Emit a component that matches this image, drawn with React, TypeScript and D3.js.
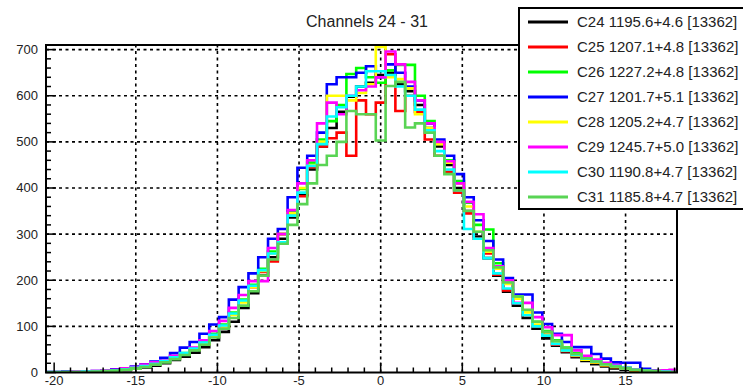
import React from "react";
import * as d3 from "d3";

// ---- data ----
const channels = ["C24", "C25", "C26", "C27", "C28", "C29", "C30", "C31"];
const legendLabels = [
  "C24 1195.6+4.6 [13362]",
  "C25 1207.1+4.8 [13362]",
  "C26 1227.2+4.8 [13362]",
  "C27 1201.7+5.1 [13362]",
  "C28 1205.2+4.7 [13362]",
  "C29 1245.7+5.0 [13362]",
  "C30 1190.8+4.7 [13362]",
  "C31 1185.8+4.7 [13362]",
];
const colors = ["#000000", "#ff0000", "#00ff00", "#0000ff", "#ffff00", "#ff00ff", "#00ffff", "#59d454"];

// bin contents, first bin starts at -20.1, width 0.6
const c24 = [0,1,0,1,2,2,4,5,8,11,15,20,27,34,43,55,70,88,110,140,172,210,250,290,336,385,440,490,530,565,598,620,628,645,650,625,610,580,530,490,450,400,350,295,248,210,175,145,118,95,74,58,44,33,25,18,13,9,6,4,2,2,1,0];
const c25 = [1,0,1,1,2,4,5,7,10,14,19,24,30,40,50,64,82,100,128,155,185,218,241,300,340,382,445,490,508,520,470,590,560,585,690,567,600,565,505,470,435,390,345,290,258,212,178,150,124,100,82,60,46,36,28,22,16,12,8,5,3,3,1,1];
const c26 = [0,1,1,2,2,3,5,7,10,13,18,25,32,42,52,66,84,104,130,158,190,225,262,300,350,398,455,505,545,580,647,660,640,628,655,667,667,600,545,500,460,415,368,320,310,237,200,165,135,110,90,70,54,42,32,25,19,14,10,6,4,3,2,1];
const c27 = [1,2,1,2,3,5,7,9,13,18,24,32,42,54,66,84,104,120,158,185,215,250,290,311,380,444,470,520,625,640,640,650,664,640,668,650,620,590,540,505,470,430,380,330,285,245,205,169,169,130,105,84,66,55,55,40,30,22,21,21,8,5,3,1];
const c28 = [0,0,1,1,2,3,4,6,9,13,18,24,32,40,50,62,80,100,125,152,185,220,258,300,345,400,450,500,600,600,590,606,625,706,640,636,616,560,530,495,455,410,360,305,262,225,192,160,130,104,82,63,48,37,28,22,16,12,8,5,3,2,1,0];
const c29 = [0,1,2,2,3,5,6,9,12,17,22,26,36,41,54,70,90,112,140,168,198,198,270,300,352,410,460,540,585,560,600,612,620,640,696,668,630,590,540,500,458,410,370,343,270,230,200,151,151,120,98,81,81,48,36,28,21,16,10,7,5,4,5,6];
const c30 = [1,1,1,2,2,3,5,7,10,14,19,25,33,42,52,65,82,102,128,156,188,222,258,282,340,390,448,495,555,575,600,620,653,653,645,620,600,570,525,480,440,395,311,290,248,215,182,150,124,100,80,62,48,38,30,24,18,14,10,6,4,3,2,1];
const c31 = [0,1,1,1,2,3,4,6,9,12,17,22,29,38,48,60,76,95,118,145,176,210,245,279,320,365,410,450,470,500,567,560,560,503,621,630,531,540,520,470,430,395,350,305,265,228,195,165,136,110,88,68,53,40,31,24,18,13,9,6,4,3,1,1];
const series = [c24, c25, c26, c27, c28, c29, c30, c31];

const xTicksMajor = [-20, -15, -10, -5, 0, 5, 10, 15];
const yTicksMajor = [0, 100, 200, 300, 400, 500, 600, 700];
const title = "Channels 24 - 31";

const BIN_START = -20.1;
const BIN_WIDTH = 0.6;

const W = 743;
const H = 388;
const FL = 46, FR = 677, FT = 45, FB = 372.5;

export default function App() {
  const x = d3.scaleLinear().domain([-20.5, 18.15]).range([FL, FR]);
  const y = d3.scaleLinear().domain([0, 710]).range([FB, FT]);

  const xMinor = d3.range(-20, 19, 1);
  const yMinor = d3.range(0, 711, 20);

  const line = d3
    .line<[number, number]>()
    .x((d) => x(d[0]))
    .y((d) => y(d[1]))
    .curve(d3.curveStepAfter);

  const pathFor = (vals: number[]) => {
    const pts: [number, number][] = [];
    pts.push([-20.5, vals[0]]);
    vals.forEach((v, i) => pts.push([BIN_START + i * BIN_WIDTH, v]));
    pts.push([BIN_START + vals.length * BIN_WIDTH, vals[vals.length - 1]]);
    return line(pts) || "";
  };

  const font = "'Liberation Sans', Arial, Helvetica, sans-serif";

  return (
    <svg
      width={W}
      height={H}
      style={{ position: "absolute", left: 0, top: 0, background: "#fff" }}
      fontFamily={font}
    >
      <defs>
        <clipPath id="frame">
          <rect x={FL} y={FT - 2} width={FR - FL} height={FB - FT + 2} />
        </clipPath>
      </defs>
      <rect x={0} y={0} width={W} height={H} fill="#fff" />

      {/* grid */}
      <g stroke="#000" strokeWidth={1.6} strokeDasharray="3 3.5">
        {xTicksMajor
          .filter((t) => t > -20)
          .map((t) => (
            <line key={"gx" + t} x1={x(t)} x2={x(t)} y1={FB} y2={FT} />
          ))}
        {yTicksMajor
          .filter((t) => t > 0)
          .map((t) => (
            <line key={"gy" + t} x1={FL} x2={FR} y1={y(t)} y2={y(t)} />
          ))}
      </g>

      {/* histograms */}
      <g clipPath="url(#frame)" fill="none" strokeWidth={2.6} strokeLinejoin="miter">
        {series.map((s, i) => (
          <path key={channels[i]} d={pathFor(s)} stroke={colors[i]} />
        ))}
      </g>

      {/* ticks */}
      <g stroke="#000" strokeWidth={1.5}>
        {xMinor.map((t) => (
          <line
            key={"tx" + t}
            x1={x(t)}
            x2={x(t)}
            y1={FB}
            y2={FB - (t % 5 === 0 ? 10 : 5)}
          />
        ))}
        {yMinor.map((t) => (
          <line
            key={"ty" + t}
            x1={FL}
            x2={FL + (t % 100 === 0 ? 10 : 5)}
            y1={y(t)}
            y2={y(t)}
          />
        ))}
      </g>

      {/* frame */}
      <rect x={FL} y={FT} width={FR - FL} height={FB - FT} fill="none" stroke="#000" strokeWidth={2} />

      {/* tick labels */}
      <g fontSize={13} fill="#222">
        {xTicksMajor.map((t) => (
          <text key={"lx" + t} x={x(t)} y={385} textAnchor="middle">
            {t}
          </text>
        ))}
        {yTicksMajor.map((t) => (
          <text key={"ly" + t} x={38} y={y(t) + 4.5} textAnchor="end">
            {t}
          </text>
        ))}
      </g>

      {/* title */}
      <text x={367} y={27} textAnchor="middle" fontSize={16} fill="#222">
        {title}
      </text>

      {/* legend */}
      <rect x={519} y={8} width={240} height={201} fill="#fff" stroke="#000" strokeWidth={2} />
      {legendLabels.map((lab, i) => (
        <g key={lab}>
          <line x1={528} x2={568} y1={22 + 25 * i} y2={22 + 25 * i} stroke={colors[i]} strokeWidth={3} />
          <text x={577} y={22 + 25 * i + 5} fontSize={15} fill="#222">
            {lab}
          </text>
        </g>
      ))}
    </svg>
  );
}
